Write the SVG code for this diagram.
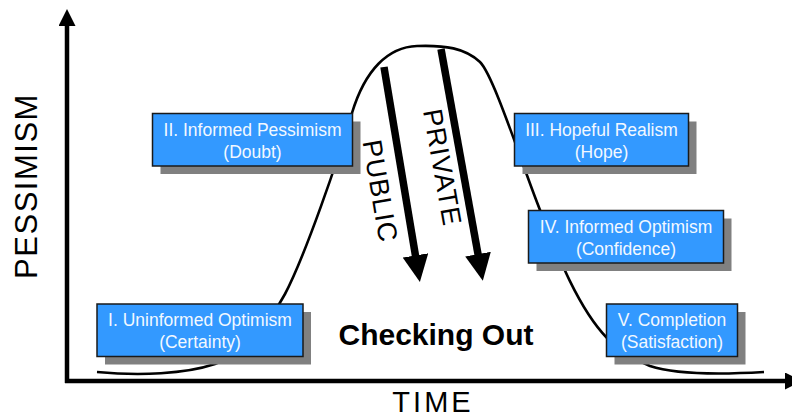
<svg xmlns="http://www.w3.org/2000/svg" width="792" height="420" viewBox="0 0 792 420">
  <style>
    .axis { stroke: #000; stroke-width: 4.5; fill: none; }
    .curve { stroke: #000; stroke-width: 2.6; fill: none; }
    .shift { stroke: #000; stroke-width: 7.5; fill: none; }
    .shadow { fill: #808080; }
    .box { fill: #3399FF; stroke: #1a1a1a; stroke-width: 1.5; }
    .lbl { font-family: "Liberation Sans", Arial, sans-serif; font-size: 17.5px; fill: #F2F8FF; text-anchor: middle; }
    .axislbl { font-family: "Liberation Sans", Arial, sans-serif; fill: #000; text-anchor: middle; }
    .side { font-family: "Liberation Sans", Arial, sans-serif; font-size: 27px; letter-spacing: 1px; fill: #000; text-anchor: middle; }
    .title { font-family: "Liberation Sans", Arial, sans-serif; font-size: 30px; font-weight: bold; fill: #000; text-anchor: middle; }
  </style>
  <defs>
    <marker id="head" markerUnits="userSpaceOnUse" viewBox="0 0 27 26" markerWidth="27" markerHeight="26" refX="1" refY="13" orient="auto">
      <path d="M0,0 L27,13 L0,26 Z" fill="#000"/>
    </marker>
    <marker id="axishead" markerUnits="userSpaceOnUse" viewBox="0 0 17 17" markerWidth="17" markerHeight="17" refX="1" refY="8.5" orient="auto">
      <path d="M0,0 L17,8.5 L0,17 Z" fill="#000"/>
    </marker>
  </defs>

  <!-- axes -->
  <g id="axes">
    <line class="axis" x1="67" y1="383" x2="67" y2="25" marker-end="url(#axishead)"/>
    <line class="axis" x1="65" y1="381" x2="786" y2="381" marker-end="url(#axishead)"/>
    <text class="axislbl" font-size="31" letter-spacing="1.5" transform="translate(36.5,186) rotate(-90)">PESSIMISM</text>
    <text class="axislbl" font-size="29" letter-spacing="3" x="433" y="412">TIME</text>
  </g>

  <!-- bell curve and the two shift arrows -->
  <g id="connectors">
    <path class="curve" d="M97,372 C140,376 185,374 215,364 C245,354 268,325 285,294 C305,256 338,160 352,113 C365,70 388,47 417,46 C445,45 465,48 480,62 C494,76 522,165 540,210 C552,240 575,305 607,338 C620,352 635,360 650,366 C680,376 730,374 764,372"/>
    <line class="shift" x1="384" y1="67" x2="415.6" y2="256.4" marker-end="url(#head)"/>
    <line class="shift" x1="441" y1="49" x2="478.2" y2="255.1" marker-end="url(#head)"/>
  </g>

  <g id="public-label">
    <text class="side" transform="translate(371,192.6) rotate(80.5)">PUBLIC</text>
  </g>
  <g id="private-label">
    <text class="side" transform="translate(433.2,169) rotate(80)">PRIVATE</text>
  </g>

  <g id="checking-out">
    <text class="title" x="436" y="345">Checking Out</text>
  </g>

  <!-- phase boxes -->
  <g id="phase1">
    <rect class="shadow" x="105" y="312" width="206" height="52.5"/>
    <rect class="box" x="97" y="304" width="206" height="52.5"/>
    <text class="lbl" x="200" y="326">I. Uninformed Optimism</text>
    <text class="lbl" x="200" y="348">(Certainty)</text>
  </g>
  <g id="phase2">
    <rect class="shadow" x="160.5" y="121.5" width="200" height="52.5"/>
    <rect class="box" x="152.5" y="113.5" width="200" height="52.5"/>
    <text class="lbl" x="252.5" y="135.5">II. Informed Pessimism</text>
    <text class="lbl" x="252.5" y="157.5">(Doubt)</text>
  </g>
  <g id="phase3">
    <rect class="shadow" x="522.5" y="121.5" width="174" height="52.5"/>
    <rect class="box" x="514.5" y="113.5" width="174" height="52.5"/>
    <text class="lbl" x="601.5" y="135.5">III. Hopeful Realism</text>
    <text class="lbl" x="601.5" y="157.5">(Hope)</text>
  </g>
  <g id="phase4">
    <rect class="shadow" x="536.5" y="218.5" width="195" height="52.5"/>
    <rect class="box" x="528.5" y="210.5" width="195" height="52.5"/>
    <text class="lbl" x="626" y="232.5">IV. Informed Optimism</text>
    <text class="lbl" x="626" y="254.5">(Confidence)</text>
  </g>
  <g id="phase5">
    <rect class="shadow" x="614.5" y="312" width="131" height="52.5"/>
    <rect class="box" x="606.5" y="304" width="131" height="52.5"/>
    <text class="lbl" x="672" y="326">V. Completion</text>
    <text class="lbl" x="672" y="348">(Satisfaction)</text>
  </g>
</svg>
